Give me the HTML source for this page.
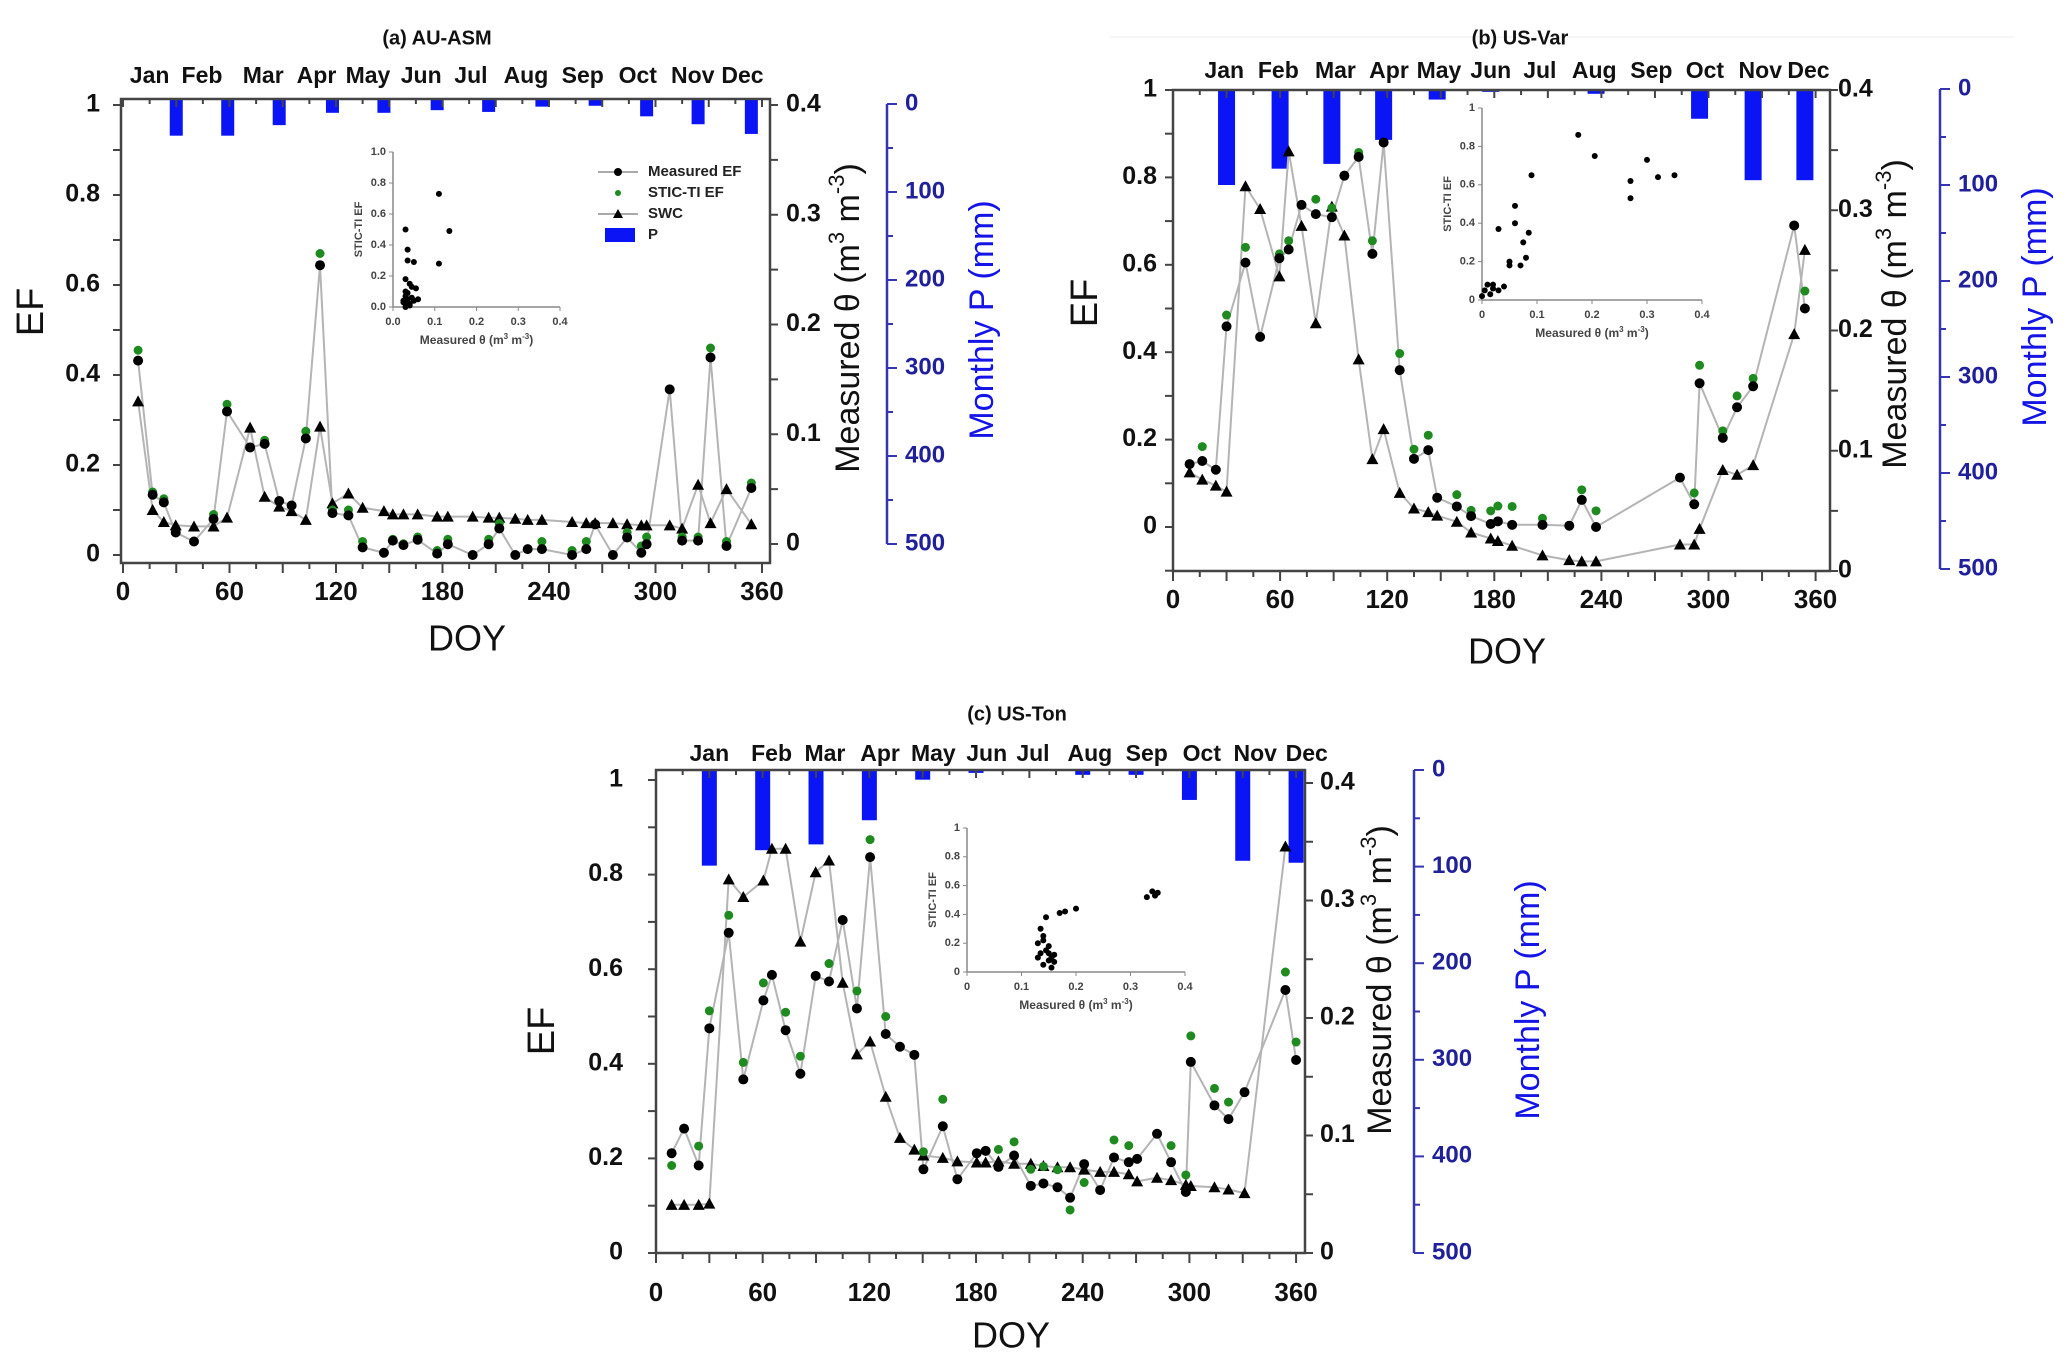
<!DOCTYPE html>
<html><head><meta charset="utf-8"><style>
html,body{margin:0;padding:0;background:#fff;}
svg{display:block;font-family:"Liberation Sans",Arial,sans-serif;}
</style></head><body>
<svg id="fig" width="2067" height="1360" viewBox="0 0 2067 1360" xmlns="http://www.w3.org/2000/svg">
<rect width="2067" height="1360" fill="#fff"/>
<line x1="1110" y1="37" x2="2014" y2="37" stroke="#eee" stroke-width="1"/>
</svg>
<script>
// ---------- Panel (a) AU-ASM ----------
const aDoy = [8.5,16.7,23,29.7,40,51,58.6,71.6,79.8,88,95,103,111,118,127,135,147,152,158,166,177,183,197,206,212,221,228,236,253,261,266,276,284,292,295,308,315,324,331,340,354];
const aMeasEF = [0.432,0.134,0.117,0.05,0.03,0.08,0.319,0.239,0.247,0.12,0.11,0.259,0.644,0.093,0.088,0.017,0.005,0.032,0.022,0.034,0.003,0.024,0.0,0.024,0.059,0.0,0.013,0.013,0.0,0.013,0.068,0.0,0.039,0.005,0.024,0.368,0.032,0.032,0.439,0.02,0.149];
const aSticEF = [0.455,0.14,0.125,0.05,0.03,0.09,0.335,0.24,0.255,null,null,0.275,0.67,0.10,0.10,0.03,null,0.035,0.025,0.04,0.01,0.035,0.0,0.035,0.07,null,null,0.03,0.01,0.03,null,null,0.05,0.02,0.04,null,0.04,0.04,0.46,0.03,0.16];
const aSWC = [0.13,0.031,0.02,0.017,0.016,0.016,0.024,0.106,0.043,0.034,0.03,0.022,0.107,0.037,0.046,0.033,0.03,0.027,0.027,0.027,0.025,0.025,0.025,0.024,0.024,0.023,0.022,0.022,0.02,0.019,0.019,0.019,0.018,0.017,0.017,0.017,0.014,0.054,0.019,0.05,0.018];
const aBarDoy = [30,59,88,118,147,177,206,236,266,295,324,354];
const aP = [36,36,24,10,10,7,9,3,2,14,23,34];
const aMonthDoy = [15,44.5,79,109,138,168,196,227,259,290,321,349];
const aInsetX = [0.03,0.035,0.035,0.05,0.11,0.11,0.135,0.03,0.04,0.045,0.055,0.03,0.03,0.035,0.025,0.03,0.04,0.03,0.06,0.05,0.035,0.045,0.025,0.04];
const aInsetY = [0.5,0.37,0.3,0.29,0.28,0.73,0.49,0.18,0.15,0.13,0.12,0.1,0.07,0.05,0.03,0.02,0.01,0.0,0.05,0.04,0.09,0.06,0.04,0.02];

// ---------- Panel (b) US-Var ----------
const bDoy = [9.3,16.4,24,30,40.6,48.8,59.6,64.8,72,80,89,96,104,111.7,118,127,135,143,148,159,167,178,182,190,207,222,229,237,284,292,295,308,316,325,348,354];
const bMeasEF = [0.144,0.151,0.131,0.459,0.605,0.435,0.615,0.635,0.737,0.716,0.709,0.804,0.847,0.625,0.88,0.359,0.156,0.176,0.067,0.047,0.025,0.007,0.013,0.005,0.005,0.003,0.062,0.0,0.113,0.052,0.329,0.204,0.274,0.322,0.69,0.5];
const bSticEF = [null,0.184,null,0.485,0.64,null,0.625,0.655,null,0.75,0.73,null,0.857,0.655,null,0.397,0.178,0.21,null,0.074,0.038,0.037,0.048,0.047,0.02,null,0.085,0.037,null,0.078,0.37,0.22,0.30,0.34,null,0.54];
const bSWC = [0.082,0.076,0.071,0.066,0.32,0.301,0.245,0.349,0.287,0.206,0.303,0.279,0.176,0.093,0.118,0.065,0.052,0.049,0.046,0.041,0.032,0.027,0.025,0.021,0.013,0.009,0.008,0.008,0.022,0.022,0.035,0.084,0.08,0.088,0.197,0.267];
const bBarDoy = [30,60,89,118,148,178,207,237,266,295,325,354];
const bP = [100,83,78,53,11,3,0,5,0,31,95,95];
const bMonthDoy = [28.7,59,91,121,149,178,205.5,236,268,298,329,356];
const bInsetX = [0.005,0.01,0.015,0.02,0.03,0.04,0.03,0.05,0.05,0.06,0.06,0.07,0.075,0.08,0.085,0.09,0.175,0.205,0.27,0.27,0.3,0.32,0.35,0.0,0.02];
const bInsetY = [0.05,0.08,0.03,0.06,0.05,0.07,0.37,0.2,0.18,0.4,0.49,0.18,0.3,0.22,0.35,0.65,0.86,0.75,0.62,0.53,0.73,0.64,0.65,0.02,0.08];

// ---------- Panel (c) US-Ton ----------
const cDoy = [8.8,15.8,24,30,40.9,49.1,60.4,65.2,72.9,81.2,89.8,97.3,105,113,120.4,129.2,137.2,145.3,150.4,161.3,169.5,180.4,185.4,192.6,201.4,210.8,217.9,225.8,232.9,240.8,249.8,257.6,265.9,270.6,281.8,289.7,298,300.8,314.1,322,331,354,360];
const cMeasEF = [0.211,0.263,0.185,0.475,0.677,0.367,0.534,0.588,0.471,0.379,0.586,0.574,0.704,0.517,0.837,0.463,0.436,0.419,0.177,0.268,0.156,0.211,0.216,0.182,0.206,0.142,0.147,0.139,0.117,0.188,0.133,0.202,0.192,0.199,0.252,0.192,0.129,0.404,0.312,0.283,0.34,0.556,0.408];
const cSticEF = [0.185,null,0.226,0.512,0.714,0.403,0.571,null,0.509,0.416,null,0.612,null,0.554,0.874,0.50,null,null,0.214,0.325,null,null,null,0.219,0.235,0.177,0.183,0.176,0.091,0.149,null,0.239,0.227,null,null,0.227,0.165,0.459,0.348,0.319,null,0.594,0.446];
const cSWC = [0.041,0.041,0.041,0.042,0.318,0.303,0.317,0.344,0.344,0.265,0.324,0.334,0.23,0.169,0.18,0.133,0.098,0.088,0.083,0.081,0.078,0.077,0.077,0.078,0.076,0.076,0.074,0.073,0.073,0.071,0.069,0.069,0.067,0.061,0.064,0.062,0.058,0.057,0.056,0.054,0.051,0.346,null];
const cBarDoy = [30,60,90,120,150,180,210,240,270,300,330,360];
const cP = [99,83,77,52,10,3,0,5,5,31,94,96];
const cMonthDoy = [30,65,95,126,156,186,212,244,276,307,337,366];
const cInsetX = [0.13,0.14,0.15,0.155,0.145,0.13,0.14,0.15,0.135,0.14,0.145,0.17,0.18,0.2,0.33,0.34,0.35,0.345,0.16,0.15,0.16,0.135,0.155];
const cInsetY = [0.1,0.05,0.08,0.1,0.15,0.2,0.22,0.18,0.3,0.25,0.38,0.41,0.42,0.44,0.52,0.56,0.55,0.53,0.12,0.13,0.07,0.13,0.03];

const monthNames = ["Jan","Feb","Mar","Apr","May","Jun","Jul","Aug","Sep","Oct","Nov","Dec"];
const efTickVals = [0,0.2,0.4,0.6,0.8,1];
const efTickLabels = ["0","0.2","0.4","0.6","0.8","1"];
const thTickVals = [0,0.1,0.2,0.3,0.4];
const pTickVals = [0,100,200,300,400,500];
const doyTickVals = [0,60,120,180,240,300,360];

const NS = "http://www.w3.org/2000/svg";
const svg = document.getElementById("fig");
function mk(tag, attrs, parent) {
  const e = document.createElementNS(NS, tag);
  for (const k in attrs) e.setAttribute(k, attrs[k]);
  (parent || svg).appendChild(e);
  return e;
}
function txt(s, attrs, parent) { const t = mk("text", attrs, parent); t.textContent = s; return t; }

function drawPanel(P) {
  const g = mk("g", {});
  
  
  const F = P.frame;
  const X = d => P.x0 + P.xs * d;
  const EF = v => P.ef0 + (P.ef1 - P.ef0) * v;
  const TH = v => P.th0 + (P.th4 - P.th0) * v / 0.4;
  const PY = v => P.p0 + (P.p500 - P.p0) * v / 500;

  // bars
  const bg = mk("g", {}, g);
  
  
  P.barDoy.forEach((d, i) => {
    if (!P.pv[i]) return;
    const b = mk("rect", {x: X(d) - P.bw / 2, y: F.t, width: P.bw, height: Math.max(0, PY(P.pv[i]) - F.t), fill: "#0a14f5"}, bg);
    
    
  });

  // frame
  const fr = mk("rect", {x: F.l, y: F.t, width: F.r - F.l, height: F.b - F.t, fill: "none", stroke: "#444", "stroke-width": 2.5}, g);
  
  

  // bottom ticks
  for (let d = 0; d <= 360; d += 15) {
    const major = d % 30 === 0;
    mk("line", {x1: X(d), x2: X(d), y1: F.b, y2: F.b + (major ? 10 : 6), stroke: "#444", "stroke-width": 2}, g);
    mk("line", {x1: X(d), x2: X(d), y1: F.t, y2: F.t + (major ? 8 : 5), stroke: "#444", "stroke-width": 2}, g);
  }
  doyTickVals.forEach(d => {
    const t = txt(String(d), {x: X(d), y: P.doyLabY, "font-size": 26, "font-weight": "bold", "text-anchor": "middle", "dominant-baseline": "middle", fill: "#111"}, g);
    
    
  });
  // left ticks
  for (let v = P.efMin; v <= 1.0001; v += 0.1) {
    mk("line", {x1: F.l - 8, x2: F.l, y1: EF(v), y2: EF(v), stroke: "#444", "stroke-width": 2}, g);
  }
  efTickVals.forEach((v, i) => {
    const t = txt(efTickLabels[i], {x: P.efLabX, y: EF(v), "font-size": 25, "font-weight": "bold", "text-anchor": "end", "dominant-baseline": "middle", fill: "#111"}, g);
    
    
  });
  // right theta ticks
  for (let v = 0; v <= 0.4001; v += 0.05) {
    mk("line", {x1: F.r, x2: F.r + 8, y1: TH(v), y2: TH(v), stroke: "#444", "stroke-width": 2}, g);
  }
  thTickVals.forEach(v => {
    const t = txt(v === 0 ? "0" : v.toFixed(1), {x: P.thLabX, y: TH(v), "font-size": 25, "font-weight": "bold", "text-anchor": "start", "dominant-baseline": "middle", fill: "#111"}, g);
    
    
  });
  // P axis
  const pa = mk("line", {x1: P.pAxisX, x2: P.pAxisX, y1: PY(0), y2: PY(500), stroke: "#3535b0", "stroke-width": 2.5}, g);
  
  
  for (let v = 0; v <= 500; v += 50) {
    mk("line", {x1: P.pAxisX, x2: P.pAxisX + (v % 100 === 0 ? 10 : 6), y1: PY(v), y2: PY(v), stroke: "#3535b0", "stroke-width": 2}, g);
  }
  pTickVals.forEach(v => {
    const t = txt(String(v), {x: P.pAxisX + 18, y: PY(v), "font-size": 24, "font-weight": "bold", "text-anchor": "start", "dominant-baseline": "middle", fill: "#20209a"}, g);
    
    
  });
  // month labels
  P.monthDoy.forEach((d, i) => {
    const t = txt(monthNames[i], {x: X(d), y: P.monthY, "font-size": 23, "font-weight": "bold", "text-anchor": "middle", "dominant-baseline": "middle", fill: "#111"}, g);
    
    
  });
  // titles
  let t = txt(P.title, {x: P.titleX, y: P.titleY, "font-size": 20, "font-weight": "bold", "text-anchor": "middle", "dominant-baseline": "middle", fill: "#111"}, g);
  
  
  t = txt("EF", {x: 0, y: 0, "font-size": 38, "text-anchor": "middle", "dominant-baseline": "middle", fill: "#111", transform: `translate(${P.efTitle[0]},${P.efTitle[1]}) rotate(-90)`}, g);
  
  
  t = txt("DOY", {x: P.doyTitle[0], y: P.doyTitle[1], "font-size": 36, "text-anchor": "middle", "dominant-baseline": "middle", fill: "#111"}, g);
  
  
  t = mk("text", {x: 0, y: 0, "font-size": 34, "text-anchor": "middle", "dominant-baseline": "middle", fill: "#111", transform: `translate(${P.thTitle[0]},${P.thTitle[1]}) rotate(-90)`}, g);
  t.innerHTML = 'Measured θ (m<tspan dy="-12" font-size="22">3</tspan><tspan dy="12"> m</tspan><tspan dy="-12" font-size="22">-3</tspan><tspan dy="12">)</tspan>';
  
  
  t = txt("Monthly P (mm)", {x: 0, y: 0, "font-size": 34, "text-anchor": "middle", "dominant-baseline": "middle", fill: "#1414e6", transform: `translate(${P.pTitle[0]},${P.pTitle[1]}) rotate(-90)`}, g);
  
  

  // lines
  function polyline(xs, vs, fy, name) {
    const pts = [];
    xs.forEach((d, i) => { if (vs[i] !== null && vs[i] !== undefined) pts.push(X(d).toFixed(1) + "," + fy(vs[i]).toFixed(1)); });
    const l = mk("polyline", {points: pts.join(" "), fill: "none", stroke: "#b4b4b4", "stroke-width": 2}, g);
    
    
  }
  polyline(P.doy, P.swc, TH, 'swc-line');
  polyline(P.doy, P.meas, EF, 'measured-ef-line');
  // triangles
  P.doy.forEach((d, i) => {
    const v = P.swc[i]; if (v === null) return;
    const x = X(d), y = TH(v);
    const tri = mk("polygon", {points: `${x},${y - 6} ${x - 6},${y + 5} ${x + 6},${y + 5}`, fill: "#000"}, g);
    
    
  });
  P.doy.forEach((d, i) => {
    const v = P.stic[i]; if (v === null) return;
    const c = mk("circle", {cx: X(d), cy: EF(v), r: 4.5, fill: "#1f8a1f"}, g);
    
    
  });
  P.doy.forEach((d, i) => {
    const v = P.meas[i]; if (v === null) return;
    const c = mk("circle", {cx: X(d), cy: EF(v), r: 5, fill: "#000"}, g);
    
    
  });

  // inset
  const I = P.inset;
  const ig = mk("g", {}, g);
  
  
  const IX = v => I.l + (I.r - I.l) * v / 0.4;
  const IY = v => I.b - (I.b - I.t) * v;
  mk("line", {x1: I.l, x2: I.l, y1: I.t, y2: I.b, stroke: "#888", "stroke-width": 1.5}, ig);
  mk("line", {x1: I.l, x2: I.r, y1: I.b, y2: I.b, stroke: "#888", "stroke-width": 1.5}, ig);
  [0, 0.2, 0.4, 0.6, 0.8, 1].forEach(v => {
    mk("line", {x1: I.l - 4, x2: I.l, y1: IY(v), y2: IY(v), stroke: "#888"}, ig);
    txt(I.dec ? v.toFixed(1) : (v === 0 ? "0" : v === 1 ? "1" : v.toFixed(1)), {x: I.l - 7, y: IY(v), "font-size": 11, "font-weight": "bold", "text-anchor": "end", "dominant-baseline": "middle", fill: "#444"}, ig);
  });
  [0, 0.1, 0.2, 0.3, 0.4].forEach(v => {
    mk("line", {x1: IX(v), x2: IX(v), y1: I.b, y2: I.b + 4, stroke: "#888"}, ig);
    txt(I.dec ? v.toFixed(1) : (v === 0 ? "0" : v.toFixed(1)), {x: IX(v), y: I.b + 15, "font-size": 11, "font-weight": "bold", "text-anchor": "middle", "dominant-baseline": "middle", fill: "#444"}, ig);
  });
  const ixt = mk("text", {x: (I.l + I.r) / 2, y: I.b + 34, "font-size": 12, "font-weight": "bold", "text-anchor": "middle", "dominant-baseline": "middle", fill: "#444"}, ig);
  ixt.innerHTML = 'Measured θ (m<tspan dy="-4" font-size="8">3</tspan><tspan dy="4"> m</tspan><tspan dy="-4" font-size="8">-3</tspan><tspan dy="4">)</tspan>';
  txt("STIC-TI EF", {x: 0, y: 0, "font-size": 11, "font-weight": "bold", "text-anchor": "middle", "dominant-baseline": "middle", fill: "#444", transform: `translate(${I.l - 34},${(I.t + I.b) / 2}) rotate(-90)`}, ig);
  I.xs.forEach((v, i) => {
    const c = mk("circle", {cx: IX(v), cy: IY(I.ys[i]), r: 3, fill: "#000"}, ig);
    
    
  });
}

drawPanel({id: "a", title: "(a) AU-ASM", frame: {l: 121, r: 770, t: 99, b: 563}, x0: 123, xs: 1.775,
  ef0: 555, ef1: 105, efMin: 0, th0: 544, th4: 105, p0: 104, p500: 544, pAxisX: 887, bw: 13,
  efLabX: 100, thLabX: 786, doyLabY: 593, monthY: 77, titleX: 437, titleY: 39,
  efTitle: [33, 312], doyTitle: [467, 641], thTitle: [850, 318], pTitle: [984, 320],
  doy: aDoy, meas: aMeasEF, stic: aSticEF, swc: aSWC, barDoy: aBarDoy, pv: aP, monthDoy: aMonthDoy,
  inset: {l: 393, r: 560, t: 152, b: 307, xs: aInsetX, ys: aInsetY, dec: true}});

drawPanel({id: "b", title: "(b) US-Var", frame: {l: 1173, r: 1830, t: 90, b: 571}, x0: 1173, xs: 1.785,
  ef0: 527, ef1: 90, efMin: -0.1, th0: 571, th4: 90, p0: 89, p500: 569, pAxisX: 1940, bw: 17,
  efLabX: 1157, thLabX: 1838, doyLabY: 601, monthY: 72, titleX: 1520, titleY: 39,
  efTitle: [1087, 303], doyTitle: [1507, 654], thTitle: [1897, 314], pTitle: [2037, 307],
  doy: bDoy, meas: bMeasEF, stic: bSticEF, swc: bSWC, barDoy: bBarDoy, pv: bP, monthDoy: bMonthDoy,
  inset: {l: 1482, r: 1702, t: 108, b: 300, xs: bInsetX, ys: bInsetY, dec: false}});

drawPanel({id: "c", title: "(c) US-Ton", frame: {l: 656, r: 1305, t: 770, b: 1253}, x0: 656, xs: 1.778,
  ef0: 1253, ef1: 780, efMin: 0, th0: 1253, th4: 783, p0: 770, p500: 1253, pAxisX: 1414, bw: 15,
  efLabX: 623, thLabX: 1320, doyLabY: 1294, monthY: 755, titleX: 1017, titleY: 715,
  efTitle: [544, 1031], doyTitle: [1011, 1338], thTitle: [1382, 980], pTitle: [1530, 1000],
  doy: cDoy, meas: cMeasEF, stic: cSticEF, swc: cSWC, barDoy: cBarDoy, pv: cP, monthDoy: cMonthDoy,
  inset: {l: 967, r: 1185, t: 828, b: 972, xs: cInsetX, ys: cInsetY, dec: false}});

// legend (panel a)
const lg = mk("g", {});


const legendLabels = ["Measured EF", "STIC-TI EF", "SWC", "P"];
const legendY = [172, 193, 214, 235];
legendLabels.forEach((s, i) => {
  const y = legendY[i];
  const e = mk("g", {}, lg);
  
  
  if (i === 0 || i === 2) mk("line", {x1: 598, x2: 638, y1: y, y2: y, stroke: "#aaa", "stroke-width": 2}, e);
  if (i === 0) mk("circle", {cx: 618, cy: y, r: 4, fill: "#000"}, e);
  if (i === 1) mk("circle", {cx: 618, cy: y, r: 3, fill: "#1f8a1f"}, e);
  if (i === 2) mk("polygon", {points: `618,${y - 5} 613,${y + 4} 623,${y + 4}`, fill: "#000"}, e);
  if (i === 3) mk("rect", {x: 605, y: y - 7, width: 30, height: 14, fill: "#0a14f5"}, e);
  txt(s, {x: 648, y: y, "font-size": 15, "font-weight": "bold", "dominant-baseline": "middle", fill: "#222"}, e);
});
</script>
</body></html>
